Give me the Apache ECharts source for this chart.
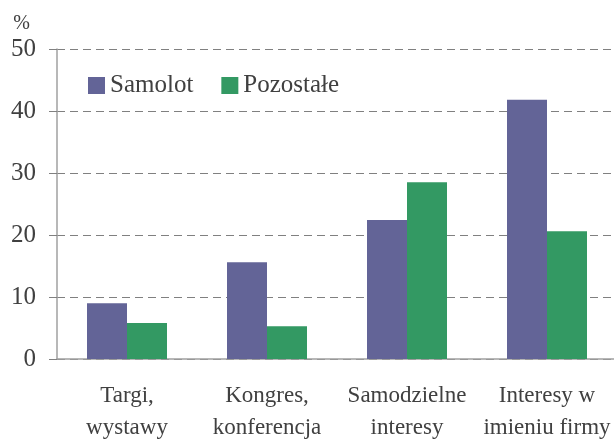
<!DOCTYPE html>
<html>
<head>
<meta charset="utf-8">
<script src="https://cdn.jsdelivr.net/npm/echarts@6/dist/echarts.min.js"></script>
<style>
  html, body { margin: 0; padding: 0; background: #fff; }
  #chart { width: 614px; height: 439px; }
</style>
</head>
<body>
<div id="chart"></div>
<script>
// dane z wykresu
var categories = ['Targi,\nwystawy', 'Kongres,\nkonferencja', 'Samodzielne\ninteresy', 'Interesy w\nimieniu firmy'];
var samolot = [9.0, 15.6, 22.4, 41.8];
var pozostale = [5.8, 5.3, 28.5, 20.6];
var yTicks = [0, 10, 20, 30, 40, 50];

var font = '"Liberation Serif", "DejaVu Serif", serif';
var textColor = '#404040';

var myChart = echarts.init(document.getElementById('chart'));

var option = {
    animation: false,
    textStyle: { fontFamily: font },
    grid: { left: 57, top: 49, width: 560, bottom: 80, outerBoundsMode: 'none', containLabel: false },
    legend: {
        left: 88,
        top: 73,
        padding: 0,
        itemWidth: 17,
        itemHeight: 17,
        itemGap: 28,
        icon: 'rect',
        textStyle: { fontFamily: font, fontSize: 25, color: textColor },
        data: ['Samolot', 'Pozostałe']
    },
    xAxis: {
        type: 'category',
        data: categories,
        axisLine: { lineStyle: { color: '#a0a0a0', width: 1.5 } },
        axisTick: { length: 8, lineStyle: { color: '#a0a0a0' } },
        axisLabel: {
            margin: 21,
            fontFamily: font,
            fontSize: 23,
            lineHeight: 32,
            color: textColor,
            interval: 0
        }
    },
    yAxis: {
        type: 'value',
        min: yTicks[0],
        max: yTicks[yTicks.length - 1],
        interval: 10,
        name: '%',
        nameLocation: 'end',
        nameGap: 15,
        nameTextStyle: { fontFamily: font, fontSize: 20, color: textColor, align: 'right', padding: [0, 27, 0, 0] },
        axisLine: { show: true, lineStyle: { color: '#a0a0a0', width: 1.5 } },
        axisTick: { show: true, length: 8, lineStyle: { color: '#808080' } },
        axisLabel: { margin: 21, fontFamily: font, fontSize: 25, color: textColor },
        splitLine: { show: true, lineStyle: { color: '#808080', type: [8, 5], width: 1 } }
    },
    series: [
        {
            name: 'Samolot',
            type: 'bar',
            data: samolot,
            barWidth: 40,
            barGap: '0%',
            itemStyle: { color: '#636497' }
        },
        {
            name: 'Pozostałe',
            type: 'bar',
            data: pozostale,
            barWidth: 40,
            barGap: '0%',
            itemStyle: { color: '#339963' }
        }
    ]
};

myChart.setOption(option);
</script>
</body>
</html>
